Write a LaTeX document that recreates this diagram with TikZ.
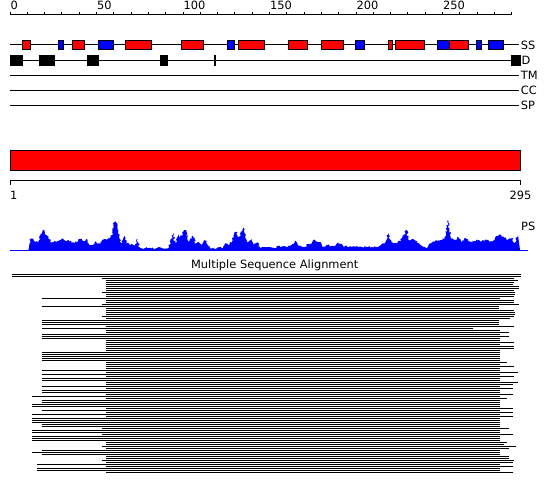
\documentclass[tikz,border=0pt]{standalone}
\usepackage{fontspec}
\setmainfont{DejaVu Sans}
\usetikzlibrary{decorations.pathmorphing}
\definecolor{fred}{RGB}{255,0,0}
\definecolor{fblue}{RGB}{0,0,255}
\begin{document}
\begin{tikzpicture}[x=1pt,y=-1pt,
  lbl/.style={font=\fontsize{11.4}{13}\selectfont, inner sep=0pt},
  trk/.style={line width=1pt, black},
  ssbox/.style={draw=black, line width=1pt},
  dbox/.style={fill=black},
  msa/.style={line width=1.1pt, black}]
\useasboundingbox (0,0) rectangle (550,495);
\pgfmathsetseed{7}
% ruler
\draw[trk] (10,15) -- (511.7,15);
\foreach \p in {0,10,...,290} \draw[trk] ({10+1.73*\p},12.3) -- ({10+1.73*\p},15);
\foreach \p in {0,50,100,150,200,250} \node[lbl, anchor=base west] (t\p) at ({10.5+1.73*\p},9.3) {\p};
% tracks
\draw[trk] (10,45) -- (519.3,45);
\draw[trk] (10,60.3) -- (519.3,60.3);
\draw[trk] (10,75.3) -- (519.3,75.3);
\draw[trk] (10,90.3) -- (519.3,90.3);
\draw[trk] (10,105.3) -- (519.3,105.3);
\foreach \a/\b/\c in {22.3/30.7/fred, 58.3/63.7/fblue, 72.3/84.3/fred, 98.3/113.7/fblue,
  125.3/151.7/fred, 181.3/203.7/fred, 227.3/234.7/fblue, 238.3/264.7/fred,
  288.3/307.7/fred, 321.3/343.7/fred, 355.3/364.7/fblue, 388.3/392.7/fred,
  395.3/424.7/fred, 437.3/449.7/fblue, 449.7/468.7/fred, 476.3/481.7/fblue, 488.3/503/fblue}
  \draw[ssbox, fill=\c] (\a,40.5) rectangle (\b,49.5);
\foreach \a/\b in {10/22.7, 39/55, 87/99, 160/168, 511/521}
  \fill[dbox] (\a,55) rectangle (\b,66);
\fill[dbox] (214,55) rectangle (216,66);
\node[lbl, anchor=base west] (ss) at (520.7,49.5) {SS};
\node[lbl, anchor=base west] (d) at (521.5,64.6) {D};
\node[lbl, anchor=base west] (tm) at (520.7,79.6) {TM};
\node[lbl, anchor=base west] (cc) at (520.7,94.6) {CC};
\node[lbl, anchor=base west] (sp) at (520.7,109.6) {SP};
% red bar
\draw[ssbox, fill=fred] (10,150.3) rectangle (520,170.5);
\draw[trk] (10,185) -- (10,180.7) -- (520,180.7) -- (520,185);
\node[lbl, anchor=base west] (one) at (9.8,200) {1};
\node[lbl, anchor=base east] (end) at (531.5,200) {295};
% profile
\fill[fblue] (28.5,250) -- (29.3,245)
  decorate[decoration={random steps,segment length=1.3pt,amplitude=1.2pt}] {
  \foreach \x/\h in {30.7/10.7, 33.3/11, 35/8.3, 38.3/7.7, 40.7/15, 42.3/16.7, 44.3/20.3, 46/15,
   48.3/11.7, 51.7/7.7, 54/9, 56.7/7.7, 60/10, 63.3/11, 66.7/9, 70/9, 73.3/7.7, 76.7/7.7, 80/11,
   83.3/9, 87.3/11, 89.3/5, 92.7/5, 96/9, 98.3/6.7, 101.7/8.3, 105/11, 108.3/11.7, 111/13.3,
   113.3/24.3, 115.3/29, 117.3/23.3, 119.3/11.7, 121.7/6.7, 125/13.3, 126.7/6.7, 130/5, 135/5,
   137/11, 138.7/5, 140.7/1.7, 168.3/1.7, 170/5.7, 173.3/16.7, 175.3/6.7, 178.3/15.7, 180.7/12.3,
   183.3/18.3, 186/20, 188.3/8.3, 192.7/14.3, 195/6.7, 199.3/8.3, 201.7/5, 205/10, 208.3/3.3,
   211.7/1.2, 218.3/2.3, 223.3/2.3, 226/6.7, 229.3/5, 232.7/12.3, 236/18.3, 238.3/11.7, 243.3/22.3,
   245.7/11.7, 248.3/7.7, 251.7/11, 254/5, 257.3/7.7, 260/2.3, 266.7/2.7, 273.3/2.3, 280/3.7,
   286.7/3, 291.7/5, 295/9, 298.3/4.3, 303.3/3, 310/5.7, 313.3/10, 316.7/8.3, 319.3/7.7, 323.3/3.3,
   328.3/5.7, 333.3/3.3, 338.3/7.7, 343.3/3.3, 350/3.7, 355/3, 360/3.3, 372/3, 380/4, 385.6/8,
   388.4/16.7, 391/8, 396/6.7, 401/10, 406.6/20, 408.5/10, 415/10, 420.7/5, 426/1.7, 431/6.7,
   438/10, 445/11.7, 448/30, 450.5/11.7, 456/10, 458/13.3, 461/8, 466/11.7, 471/8, 477/10.7,
   482/9, 487/10, 492/8, 496/13.3, 500/15.7, 503.5/13.3, 508/10, 512/11.7, 515/6.7, 518/15}
   { -- (\x,{250-\h}) } }
  -- (520,250) -- cycle;
\draw[line width=1pt, fblue] (10,250) -- (528,250);
\node[lbl, anchor=base west] (ps) at (521,230) {PS};
% MSA
\node[lbl, anchor=base] (msat) at (274.7,268.3) {Multiple Sequence Alignment};
\foreach \i/\s/\e in {0/11.5/521, 1/11.5/521, 2/101.5/514, 3/105.7/518, 4/105.7/514, 5/105.7/513,
 6/105.7/519, 7/105.7/519, 8/105.7/514, 9/101.5/515, 10/105.7/515, 11/105.7/514, 12/41.7/500,
 13/105.7/514, 14/105.7/514, 15/101.5/519, 16/41.7/499, 17/105.7/499, 18/105.7/514, 19/105.7/515,
 20/105.7/515, 21/101.5/514, 22/105.7/510, 23/41.7/499, 24/41.7/499, 25/41.7/499, 26/105.7/514,
 27/41.7/473, 28/105.7/500, 29/105.7/509, 30/41.7/500, 31/41.7/509, 32/41.7/500, 33/105.7/500,
 34/105.7/514, 35/105.7/500, 36/105.7/514, 37/105.7/514, 38/105.7/500, 39/41.7/500, 40/41.7/500,
 41/41.7/500, 42/41.7/500, 43/41.7/500, 44/105.7/507, 45/105.7/500, 46/105.7/514, 47/105.7/500,
 48/41.7/500, 49/105.7/518, 50/41.7/500, 51/105.7/514, 52/41.7/500, 53/41.7/500, 54/105.7/518,
 55/105.7/513, 56/41.7/500, 57/105.7/513, 58/41.7/500, 59/41.7/500, 60/105.7/513, 61/32.3/500,
 62/105.7/507, 63/41.7/500, 64/41.7/500, 65/32.3/500, 66/32.3/500, 67/105.7/513, 68/41.7/500,
 69/105.7/513, 70/32.3/500, 71/105.7/513, 72/32.3/500, 73/32.3/500, 74/32.3/500, 75/41.7/500,
 76/41.7/500, 77/101.5/509, 78/32.3/500, 79/32.3/500, 80/101.5/513, 81/32.3/500, 82/32.3/500,
 83/32.3/500, 84/105.7/507, 85/105.7/504, 86/101.5/516, 87/105.7/509, 88/41.7/500, 89/32.3/500,
 90/41.7/500, 91/105.7/509, 92/105.7/509, 93/101.5/514, 94/105.7/513, 95/37.3/500, 96/105.7/513,
 97/37.3/500, 98/37.3/500, 99/105.7/513}
  \draw[msa] (\s,{274.5+2*\i}) -- (\e,{274.5+2*\i});
\end{tikzpicture}
\end{document}
